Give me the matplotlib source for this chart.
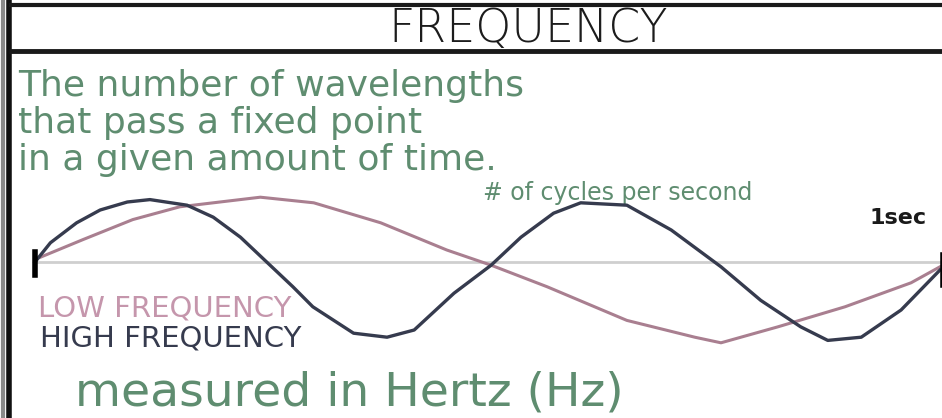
import matplotlib.pyplot as plt

# 글자 색
GREEN = '#5f8d70'
DARK = '#363b4e'
PINK = '#a97f90'

# 고주파(2 cycles) - 그림에서 읽은 점 (시간[s], 진폭)
high_t = [0.0, 0.017, 0.046, 0.072, 0.102, 0.127, 0.168, 0.197, 0.227, 0.256,
          0.285, 0.307, 0.352, 0.389, 0.419, 0.463, 0.504, 0.537, 0.573, 0.603,
          0.654, 0.703, 0.758, 0.802, 0.846, 0.876, 0.913, 0.957, 1.0]
high_a = [0.0, 0.24, 0.49, 0.65, 0.75, 0.78, 0.71, 0.56, 0.31, 0.0,
          -0.31, -0.56, -0.89, -0.94, -0.85, -0.39, -0.04, 0.31, 0.61, 0.74,
          0.71, 0.40, -0.06, -0.48, -0.81, -0.98, -0.94, -0.60, -0.10]

# 저주파(1 cycle)
low_t = [0.006, 0.053, 0.108, 0.160, 0.197, 0.249, 0.308, 0.382, 0.455, 0.504,
         0.566, 0.654, 0.729, 0.758, 0.821, 0.895, 0.968, 1.0]
low_a = [0.06, 0.28, 0.53, 0.69, 0.74, 0.81, 0.74, 0.49, 0.15, -0.04,
         -0.31, -0.73, -0.94, -1.01, -0.81, -0.56, -0.26, -0.06]

lines = ['The number of wavelengths',
         'that pass a fixed point',
         'in a given amount of time.']

fig = plt.figure(figsize=(9.42, 4.18), dpi=100)
fig.patch.set_facecolor('white')

# 배경용 axes (픽셀 좌표)
bg = fig.add_axes([0, 0, 1, 1])
bg.set_xlim(0, 942)
bg.set_ylim(418, 0)
bg.axis('off')

# 테두리
bg.plot([8.5, 8.5], [0, 418], color='#111111', lw=4, solid_capstyle='butt')
bg.plot([3, 3], [0, 418], color='#8a8a8a', lw=3, solid_capstyle='butt')
bg.plot([9, 942], [5, 5], color='#1a1a1a', lw=3, solid_capstyle='butt')
bg.plot([9, 942], [51, 51], color='#1a1a1a', lw=3.5, solid_capstyle='butt')

# 제목
bg.text(528, 29, 'FREQUENCY', fontsize=33, color='#1c1c1c',
        ha='center', va='center', family='DejaVu Sans', fontweight='light')

# 설명 글
ys = [96, 133, 170]
for txt, y in zip(lines, ys):
    bg.text(18, y, txt, fontsize=26, color=GREEN, ha='left', va='baseline',
            family='DejaVu Sans')

bg.text(618, 193, '# of cycles per second', fontsize=17, color=GREEN,
        ha='center', va='center')
bg.text(870, 218, '1sec', fontsize=16, color='#1a1a1a', ha='left',
        va='center', fontweight='bold')

bg.text(38, 309, 'LOW FREQUENCY', fontsize=21, color='#c596ac',
        ha='left', va='center')
bg.text(40, 339, 'HIGH FREQUENCY', fontsize=21, color=DARK,
        ha='left', va='center')

bg.text(75, 406, 'measured in Hertz (Hz)', fontsize=34, color=GREEN,
        ha='left', va='baseline')

# 파형 axes
ax = fig.add_axes([35 / 942, (418 - 350) / 418, 905 / 942, 160 / 418])
ax.set_xlim(0, 1)
ax.set_ylim(-1.1, 0.9)
ax.axis('off')
ax.patch.set_alpha(0)

ax.plot([0, 1.01], [0, 0], color='#cfcfcf', lw=2, clip_on=False)
ax.plot(low_t, low_a, color=PINK, lw=2.2, clip_on=False)
ax.plot(high_t, high_a, color=DARK, lw=2.4, clip_on=False)

# 양 끝 표시
ax.plot([0, 0], [0.12, -0.16], color='black', lw=4, clip_on=False)
ax.plot([1.003, 1.003], [0.09, -0.29], color='black', lw=4, clip_on=False)

fig.savefig('out.png', dpi=100)
